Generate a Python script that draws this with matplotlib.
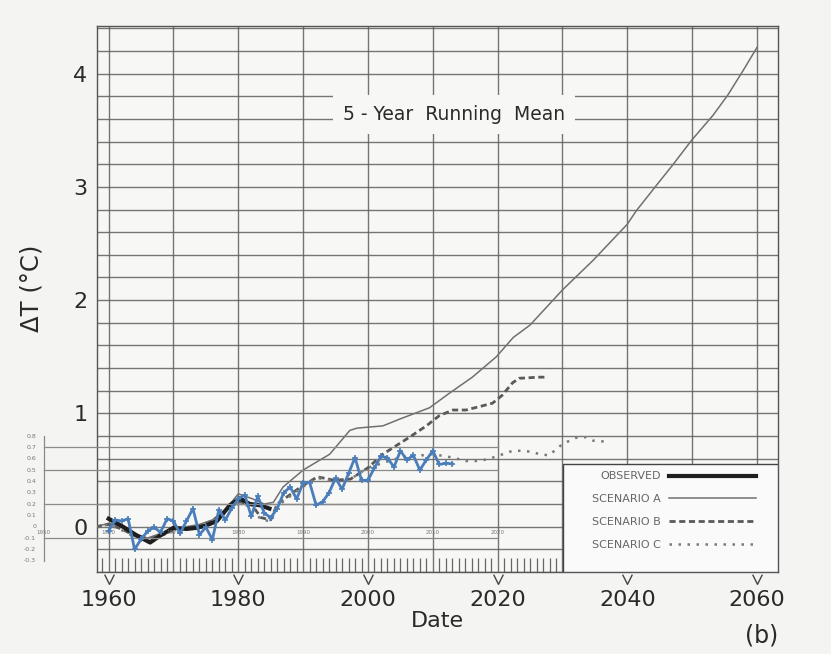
import matplotlib
matplotlib.use("Agg")
import matplotlib.pyplot as plt
import matplotlib.transforms as mtransforms
from matplotlib.patches import Rectangle
from matplotlib.lines import Line2D
from matplotlib.ticker import MultipleLocator, FuncFormatter

plt.rcParams['font.family'] = ['DejaVu Sans']

# ---------------- data ----------------
obs_years = [1960, 1962.2, 1964.4, 1966.4, 1967.9, 1970, 1972, 1973.6, 1975, 1976.7,
             1978.7, 1980.2, 1981.8, 1983.3, 1984.8]
obs_vals = [0.07, 0.0, -0.08, -0.14, -0.08, -0.01, -0.02, -0.01, 0.01, 0.05,
            0.19, 0.25, 0.2, 0.19, 0.16]

a_years = [1958, 1960, 1962, 1964, 1966, 1968, 1970, 1972, 1974, 1976, 1978, 1980,
           1982, 1984, 1985.4, 1986.9, 1990, 1994.1, 1997.2, 1998.3, 2002.3, 2004.9,
           2009.5, 2012.6, 2016.1, 2019.8, 2022.4, 2025, 2030, 2034.7, 2040, 2041.4,
           2045, 2047.1, 2049.9, 2053.2, 2055.5, 2057.9, 2060]
a_vals = [0.0, 0.03, 0.0, -0.06, -0.1, -0.06, -0.02, 0.0, 0.02, 0.06, 0.15, 0.29,
          0.25, 0.2, 0.215, 0.35, 0.50, 0.64, 0.85, 0.87, 0.89, 0.95,
          1.05, 1.18, 1.32, 1.50, 1.67, 1.78, 2.09, 2.35, 2.67, 2.79,
          3.05, 3.20, 3.41, 3.63, 3.81, 4.03, 4.23]

b_years = [1958, 1960, 1962, 1964, 1966, 1968, 1970, 1972, 1974, 1976, 1978, 1980,
           1982, 1983.5, 1985, 1986, 1989.6, 1992.2, 1994.8, 1997.3, 2000, 2002.3,
           2006.4, 2009, 2011, 2013.1, 2015.1, 2017.2, 2019.2, 2020.7, 2022.3, 2023.3,
           2026.4, 2027.4]
b_vals = [0.0, 0.02, -0.02, -0.08, -0.12, -0.07, -0.03, -0.01, 0.0, 0.05, 0.14, 0.22,
          0.2, 0.08, 0.06, 0.2, 0.35, 0.44, 0.41, 0.42, 0.52, 0.64,
          0.79, 0.89, 0.98, 1.03, 1.03, 1.06, 1.09, 1.16, 1.27, 1.31,
          1.32, 1.32]

c_years = [1958, 1960, 1962, 1964, 1966, 1968, 1970, 1972, 1974, 1976, 1978, 1980,
           1982, 1983.5, 1985, 1986, 1989.6, 1992.2, 1994.8, 1997.3, 2000, 2004.9,
           2010, 2013.1, 2015.1, 2017.2, 2018.7, 2020.3, 2022.3, 2023.8, 2025.4,
           2026.4, 2027.9, 2029.2, 2030, 2032.1, 2033.6, 2034.7, 2036.8, 2037.3]
c_vals = [0.0, 0.02, -0.03, -0.09, -0.12, -0.08, -0.04, -0.02, 0.0, 0.04, 0.12, 0.2,
          0.18, 0.06, 0.05, 0.18, 0.34, 0.43, 0.4, 0.42, 0.52, 0.61,
          0.64, 0.61, 0.58, 0.58, 0.60, 0.63, 0.67, 0.67, 0.66,
          0.64, 0.63, 0.69, 0.73, 0.785, 0.79, 0.76, 0.75, 0.76]

blue_years = list(range(1960, 2014))
blue_vals = [-0.035, 0.06, 0.05, 0.07, -0.20, -0.11, -0.04, -0.005, -0.05, 0.07,
             0.05, -0.06, 0.05, 0.16, -0.07, -0.005, -0.115, 0.15, 0.06, 0.165,
             0.245, 0.28, 0.09, 0.27, 0.12, 0.08, 0.16, 0.30, 0.35, 0.245,
             0.39, 0.39, 0.19, 0.22, 0.30, 0.43, 0.33, 0.47, 0.61, 0.41,
             0.41, 0.52, 0.62, 0.61, 0.525, 0.67, 0.59, 0.63, 0.50, 0.59,
             0.67, 0.55, 0.56, 0.555]

overlay_y_ticks = [0.8, 0.7, 0.6, 0.5, 0.4, 0.3, 0.2, 0.1, 0, -0.1, -0.2, -0.3]
overlay_y_labels = ["0.8", "0.7", "0.6", "0.5", "0.4", "0.3", "0.2", "0.1", "0",
                    "-0.1", "-0.2", "-0.3"]
overlay_x_ticks = [1950, 1960, 1970, 1980, 1990, 2000, 2010, 2020]
overlay_grid = [0.7, 0.5, 0.2, -0.1]

x_label_years = [1960, 1980, 2000, 2020, 2040, 2060]
y_label_vals = [0, 1, 2, 3, 4]

legend_labels = ["OBSERVED", "SCENARIO A", "SCENARIO B", "SCENARIO C"]

# ---------------- figure ----------------
BG = '#f4f4f3'
fig = plt.figure(figsize=(8.31, 6.54), dpi=100, facecolor=BG)
ax = fig.add_axes([97 / 831, 1 - 572 / 654, (777.7 - 97) / 831, (572 - 26) / 654])
ax.set_facecolor('#f7f7f6')
ax.set_xlim(1958.2, 2063.2)
ax.set_ylim(-0.4, 4.42)

for s in ax.spines.values():
    s.set_color('#555')
    s.set_linewidth(1.0)

# grid
ax.xaxis.set_major_locator(MultipleLocator(10))
ax.yaxis.set_major_locator(MultipleLocator(0.2))
ax.xaxis.set_minor_locator(MultipleLocator(1))
ax.grid(True, which='major', color='#5e5e5e', lw=1.0, alpha=0.85)
ax.set_axisbelow(True)

ax.xaxis.set_major_formatter(FuncFormatter(
    lambda v, p: f"{int(round(v))}" if int(round(v)) in x_label_years else ""))
ax.yaxis.set_major_formatter(FuncFormatter(
    lambda v, p: f"{int(round(v))}" if abs(v - round(v)) < 1e-6 and int(round(v)) in y_label_vals else ""))
ax.tick_params(axis='x', which='major', length=0, pad=13, labelsize=16, labelcolor='#2a2a2a')
ax.tick_params(axis='x', which='minor', direction='in', length=10, width=0.9, color='#666')
ax.tick_params(axis='y', which='both', length=0, pad=7, labelsize=16, labelcolor='#2a2a2a')

# V marks under the axis
vtrans = mtransforms.blended_transform_factory(ax.transData, ax.transAxes)
ax.plot(x_label_years, [-0.012] * len(x_label_years), transform=vtrans, ls='none',
        marker=[(-1, 1), (0, -1), (1, 1)], ms=7, mfc='none', mec='#444', mew=1.0,
        clip_on=False)

ax.set_xlabel("Date", fontsize=16, color='#2a2a2a', labelpad=1)
ax.set_ylabel("ΔT (°C)", fontsize=17.5, color='#2a2a2a')
ax.yaxis.set_label_coords(-0.079, 0.52)

# model / observed lines
ax.plot(a_years, a_vals, color='#707070', lw=1.1, zorder=3)
ax.plot(b_years, b_vals, color='#5a5a5a', lw=2.0, ls=(0, (2.2, 1.3)), zorder=3)
ax.plot(c_years, c_vals, color='#7a7a7a', lw=1.8, ls=(0, (1, 2.6)), zorder=3)
ax.plot(obs_years, obs_vals, color='#1e1e1e', lw=3.0, zorder=4)

ax.text(2013.3, 3.64, "5 - Year  Running  Mean", fontsize=13.5, color='#2a2a2a',
        ha='center', va='center', zorder=5,
        bbox=dict(facecolor='#f7f7f6', edgecolor='none', pad=7))

# legend box
lx0 = (563 - 97) / 680.7
lh = (572 - 464) / 546
ax.add_patch(Rectangle((lx0, 0), 1 - lx0, lh, transform=ax.transAxes,
                       facecolor='#fafafa', edgecolor='#444', lw=1.0, zorder=6))
handles = [Line2D([], [], color='#1e1e1e', lw=3.0),
           Line2D([], [], color='#707070', lw=1.1),
           Line2D([], [], color='#5a5a5a', lw=2.0, ls=(0, (2.2, 1.3))),
           Line2D([], [], color='#7a7a7a', lw=1.8, ls=(0, (1, 2.6)))]
leg = ax.legend(handles, legend_labels, loc='center right',
                bbox_to_anchor=(lx0, 0.0135, 1 - lx0 - 0.026, lh), frameon=False,
                markerfirst=False, fontsize=8, handlelength=7.8, labelspacing=1.15,
                handletextpad=0.7, borderaxespad=0.0, labelcolor='#666')
leg.set_zorder(7)

# overlay (blue annual series with its own faint axis)
ax.plot([1950, 1950], [-0.3, 0.8], color='#8a8a8a', lw=0.9, clip_on=False, zorder=8)
for g in overlay_grid:
    ax.plot([1950, 2020], [g, g], color='#8a8a8a', lw=0.9, clip_on=False, zorder=8)
for v, t in zip(overlay_y_ticks, overlay_y_labels):
    ax.text(1948.8, v, t, fontsize=4.5, color='#777', ha='right', va='center',
            clip_on=False, zorder=8)
for v in overlay_x_ticks:
    ax.text(v, -0.05, str(v), fontsize=4, color='#777', ha='center', va='center',
            clip_on=False, zorder=8)
ax.plot(blue_years, blue_vals, color='#4a7ebb', lw=2.0, marker='+', ms=4, mew=1.2,
        zorder=10, clip_on=False)

fig.text(762 / 831, 1 - 636 / 654, "(b)", fontsize=17, color='#2a2a2a',
         ha='center', va='center')

fig.savefig("out.png", dpi=100, facecolor=BG)
